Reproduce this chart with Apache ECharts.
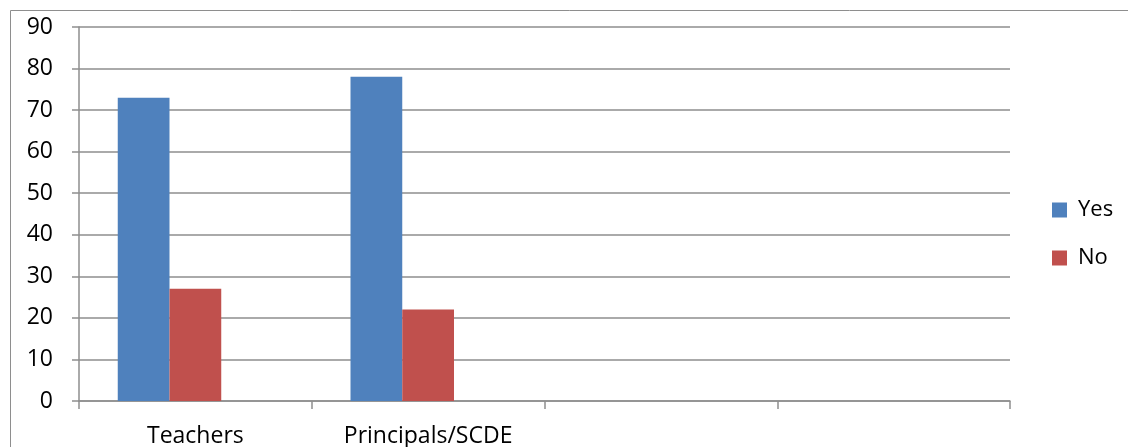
<!DOCTYPE html>
<html>
<head>
<meta charset="utf-8">
<script src="https://cdn.jsdelivr.net/npm/echarts@6/dist/echarts.min.js"></script>
<style>
  html, body { margin: 0; padding: 0; background: #fff; }
  #chart { width: 1128px; height: 447px; }
</style>
</head>
<body>
<div id="chart"></div>
<script>
// Respondent groups (two trailing empty slots on the category axis)
const categories = ['Teachers', 'Principals/SCDE', '', ''];
// Percent answering each way
const yesValues = [73, 78, null, null];
const noValues = [27, 22, null, null];
// Placeholder third series slot (no values), keeps bar groups offset within each category
const spareValues = [null, null, null, null];
const yTicks = { min: 0, max: 90, interval: 10 };

const font = '"Open Sans", sans-serif';
const gridColor = '#8e8e8e';

const chart = echarts.init(document.getElementById('chart'), null, { renderer: 'canvas' });
chart.setOption({
  animation: false,
  backgroundColor: '#fff',
  textStyle: { fontFamily: font },
  graphic: [{
    type: 'rect',
    shape: { x: 10.5, y: 10.5, width: 1300, height: 600 },
    style: { fill: 'none', stroke: gridColor, lineWidth: 1 },
    silent: true,
    z: 0
  }],
  grid: { left: 79, right: 118, top: 27, bottom: 46, containLabel: false, outerBoundsMode: 'none' },
  legend: {
    data: ['Yes', 'No'],
    orient: 'vertical',
    left: 1052,
    top: 199,
    padding: 0,
    itemWidth: 15,
    itemHeight: 15,
    itemGap: 26,
    icon: 'rect',
    textStyle: { fontFamily: font, fontSize: 22, color: '#000', padding: [0, 0, 0, 6] }
  },
  xAxis: {
    type: 'category',
    data: categories,
    axisLine: { lineStyle: { color: gridColor, width: 1.5 } },
    axisTick: { show: true, length: 8, alignWithLabel: false, lineStyle: { color: gridColor, width: 1.5 } },
    axisLabel: { fontFamily: font, fontSize: 23, color: '#000', margin: 24, interval: 0 },
    splitLine: { show: false }
  },
  yAxis: {
    type: 'value',
    min: yTicks.min,
    max: yTicks.max,
    interval: yTicks.interval,
    axisLine: { show: true, lineStyle: { color: gridColor, width: 1.5 } },
    axisTick: { show: true, length: 7, inside: false, lineStyle: { color: gridColor, width: 1.5 } },
    axisLabel: { fontFamily: font, fontSize: 23, color: '#000', margin: 26 },
    splitLine: { show: true, lineStyle: { color: gridColor, width: 1.5 } }
  },
  series: [
    { name: 'Yes', type: 'bar', data: yesValues, barGap: '0%', barCategoryGap: '33.3%', itemStyle: { color: '#4F81BD' } },
    { name: 'No', type: 'bar', data: noValues, itemStyle: { color: '#C0504D' } },
    { name: 'spare', type: 'bar', data: spareValues, itemStyle: { color: '#9BBB59' } }
  ]
});
</script>
</body>
</html>
